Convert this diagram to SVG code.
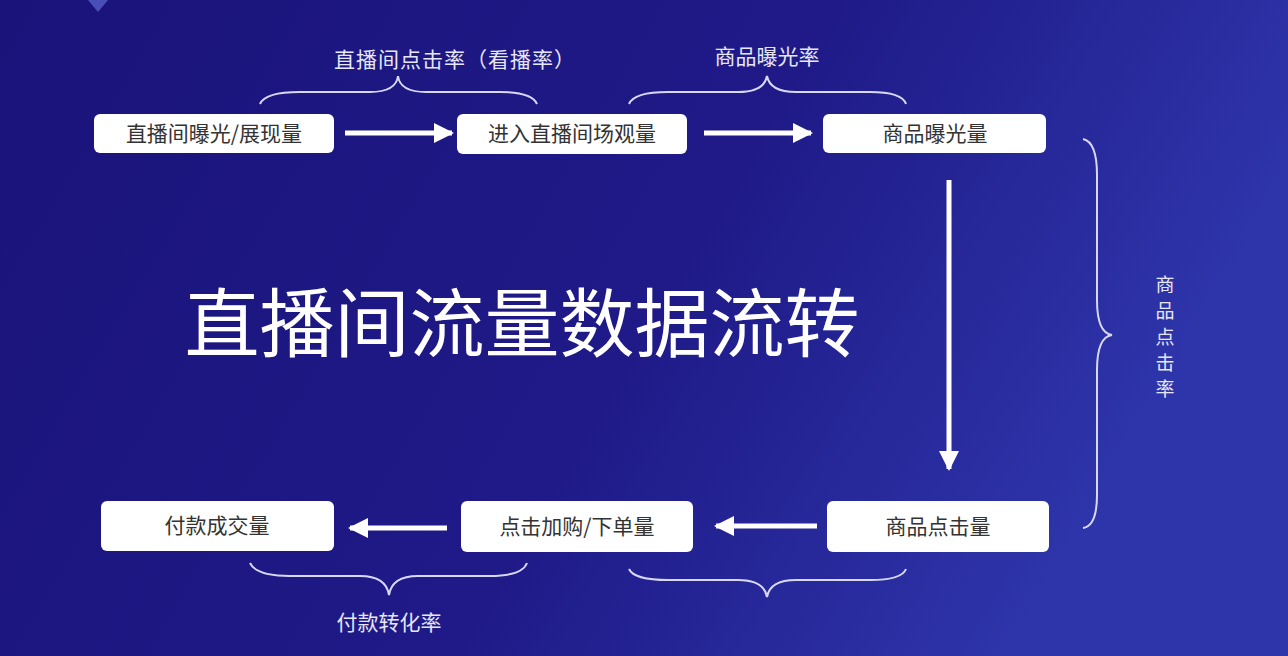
<svg xmlns="http://www.w3.org/2000/svg" width="1288" height="656" viewBox="0 0 1288 656">
<defs>
<linearGradient id="bg" x1="0" y1="0" x2="1" y2="0.3">
<stop offset="0" stop-color="#1a137a"/><stop offset="0.6" stop-color="#1f1a88"/><stop offset="1" stop-color="#2e35aa"/>
</linearGradient>
<marker id="ah" viewBox="0 0 10 10" refX="9" refY="5" markerWidth="4" markerHeight="4" orient="auto"><path d="M0,0 L10,5 L0,10 z" fill="#fff"/></marker>
<style>
.box{fill:#fff}
.bt{font-family:"Noto Sans CJK SC",sans-serif;font-size:21px;fill:#333;text-anchor:middle}
.lb{font-family:"Noto Sans CJK SC",sans-serif;font-size:21px;fill:#e6e6f5;text-anchor:middle}
.vl{font-family:"Noto Sans CJK SC",sans-serif;font-size:19px;fill:#e6e6f5;text-anchor:middle}
.con{stroke:#fff;stroke-width:5;fill:none;marker-end:url(#ah)}
.br{stroke:#d8d8f5;stroke-width:2;fill:none}
</style>
</defs>
<rect width="1288" height="656" fill="url(#bg)"/>
<path d="M88,0 L108,0 L98,12 z" fill="#4a4fb8"/>
<g id="n1"><rect class="box" x="94" y="114" width="240" height="39" rx="6"/><text class="bt" x="214" y="141">直播间曝光/展现量</text></g>
<g id="n2"><rect class="box" x="457" y="114" width="230" height="40" rx="6"/><text class="bt" x="572" y="141">进入直播间场观量</text></g>
<g id="n3"><rect class="box" x="823" y="114" width="223" height="39" rx="6"/><text class="bt" x="935" y="141">商品曝光量</text></g>
<g id="n4"><rect class="box" x="827" y="501" width="222" height="51" rx="6"/><text class="bt" x="938" y="534">商品点击量</text></g>
<g id="n5"><rect class="box" x="461" y="501" width="232" height="51" rx="6"/><text class="bt" x="577" y="534">点击加购/下单量</text></g>
<g id="n6"><rect class="box" x="101" y="501" width="233" height="50" rx="6"/><text class="bt" x="217" y="533">付款成交量</text></g>
<g id="connectors">
<line class="con" x1="345" y1="133" x2="452" y2="133"/>
<line class="con" x1="704" y1="133" x2="811" y2="133"/>
<line class="con" x1="949" y1="180" x2="949" y2="469"/>
<line class="con" x1="817" y1="526" x2="716" y2="526"/>
<line class="con" x1="447" y1="528" x2="350" y2="528"/>
</g>
<g id="braces">
<path class="br" d="M260,104 Q265,92 300,92 L370,92 Q396,92 398,76 Q400,92 426,92 L500,92 Q532,92 537,104"/>
<path class="br" d="M629,104 Q634,92 668,92 L738,92 Q764,92 767,76 Q770,92 796,92 L870,92 Q902,92 906,104"/>
<path class="br" d="M1083,139 Q1097,142 1097,175 L1097,300 Q1097,333 1112,335 Q1097,337 1097,370 L1097,495 Q1097,526 1083,528"/>
<path class="br" d="M250,563 Q256,576 290,576 L360,576 Q386,576 389,595 Q392,576 418,576 L490,576 Q522,576 527,563"/>
<path class="br" d="M629,569 Q634,580 668,580 L738,580 Q764,580 767,597 Q770,580 796,580 L870,580 Q902,580 906,569"/>
</g>
<text class="lb" x="455" y="67" letter-spacing="1">直播间点击率（看播率）</text>
<text class="lb" x="767" y="64">商品曝光率</text>
<text class="lb" x="389" y="630">付款转化率</text>
<g class="vl"><text x="1165" y="292">商</text><text x="1165" y="318">品</text><text x="1165" y="344">点</text><text x="1165" y="370">击</text><text x="1165" y="396">率</text></g>
<text x="522" y="351" font-family="Noto Sans CJK SC,sans-serif" font-size="75" fill="#fff" text-anchor="middle">直播间流量数据流转</text>
</svg>
